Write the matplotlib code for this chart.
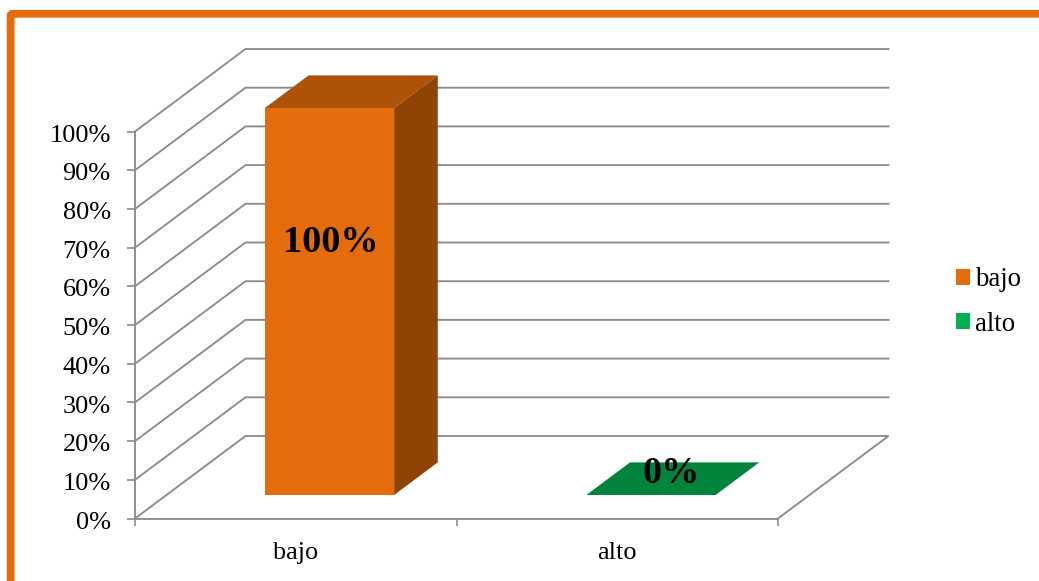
import matplotlib
matplotlib.use("Agg")
import matplotlib.pyplot as plt
from matplotlib.patches import Patch, Polygon, FancyBboxPatch
from matplotlib.lines import Line2D
from matplotlib.transforms import ScaledTranslation

categories = ["bajo", "alto"]
values = [100, 0]
value_labels = ["100%", "0%"]
y_ticks = [0, 10, 20, 30, 40, 50, 60, 70, 80, 90, 100]
y_tick_labels = ["0%", "10%", "20%", "30%", "40%", "50%", "60%", "70%", "80%", "90%", "100%"]

W, H = 1039, 581
FRONT = "#E46C0A"
TOPS = ["#AE5207", "#00843C"]
SIDE = ["#8F4304", "#006B30"]
FACES = [FRONT, "#00B050"]
GRID = "#8C8C8C"
SERIF = "Liberation Serif"
FS = 18.9
FS_LEG = 19.4

plt.rcParams["font.family"] = SERIF
fig = plt.figure(figsize=(W / 100, H / 100), dpi=100, facecolor="white")

# orange frame, running off the right and bottom edges
frame = FancyBboxPatch((10.6 / W, (H - 13.8) / H - 1.2), 1.2, 1.2,
                       boxstyle="round,pad=0,rounding_size=0.002",
                       transform=fig.transFigure, fill=False,
                       edgecolor=FRONT, linewidth=5.6, mutation_aspect=W / H)
fig.add_artist(frame)

L, R, B, T = 135, 778, 518.5, 131.5
ax = fig.add_axes([L / W, 1 - B / H, (R - L) / W, (B - T) / H])
ax.set_xlim(-0.5, 1.5)
ax.set_ylim(0, 100)
ax.patch.set_alpha(0)

px_x = 2 / (R - L)
px_y = 100 / (B - T)
DEPTH_X = 110.5 * px_x
DEPTH_Y = 82.5 * px_y


def proj(x, y, d):
    """Oblique projection: d is the depth, 0 at the front and 1 at the back."""
    return (x + d * DEPTH_X, y + d * DEPTH_Y)


# walls and floor gridlines
for v in y_ticks:
    pts = [proj(-0.5, v, 0), proj(-0.5, v, 1), proj(1.5, v, 1)]
    if v == 0:
        pts.append(proj(1.5, v, 0))
    ax.add_line(Line2D(*zip(*pts), color=GRID, lw=1.35, zorder=1, clip_on=False,
                       solid_joinstyle="miter"))

# bars
BAR_W = 0.402
D0, D1 = 0.285, 0.68
SHIFT = 0.007
LABEL_DEPTH = {True: 0.315, False: 0.484}
LABEL_Y = {True: 64.6, False: 1.4}
for i, (v, lab) in enumerate(zip(values, value_labels)):
    x0, x1 = i + SHIFT - BAR_W / 2, i + SHIFT + BAR_W / 2
    side = [proj(x1, 0, D0), proj(x1, 0, D1), proj(x1, v, D1), proj(x1, v, D0)]
    top = [proj(x0, v, D0), proj(x1, v, D0), proj(x1, v, D1), proj(x0, v, D1)]
    front = [proj(x0, 0, D0), proj(x1, 0, D0), proj(x1, v, D0), proj(x0, v, D0)]
    if v > 0:
        ax.add_patch(Polygon(side, closed=True, fc=SIDE[i], ec="none", zorder=3, clip_on=False))
        ax.add_patch(Polygon(front, closed=True, fc=FRONT, ec="none", zorder=4, clip_on=False))
    ax.add_patch(Polygon(top, closed=True, fc=TOPS[i], ec="none", zorder=3, clip_on=False))
    cx, cy = proj(i, LABEL_Y[v > 0], LABEL_DEPTH[v > 0])
    ax.text(cx, cy, lab, ha="center", va="center", fontsize=27.5, fontweight="bold",
            color="black", zorder=6, clip_on=False)

# axes
for s in ("top", "right"):
    ax.spines[s].set_visible(False)
for s in ("left", "bottom"):
    ax.spines[s].set_color(GRID)
    ax.spines[s].set_linewidth(1.35)
ax.set_yticks(y_ticks)
ax.set_yticklabels(y_tick_labels, fontsize=FS, color="black")
ax.set_xticks([-0.5, 0.5, 1.5])
ax.set_xticklabels([])
ax.set_xticks([0, 1], minor=True)
ax.set_xticklabels(categories, minor=True, fontsize=FS, color="black")
ax.tick_params(axis="y", length=5.5, width=1.2, color=GRID, pad=12)
ax.tick_params(axis="x", which="major", length=5, width=1.2, color=GRID)
ax.tick_params(axis="x", which="minor", length=0, pad=17)

# the reference's y labels sit slightly below their ticks
nudge = ScaledTranslation(0, -1.2 / 72, fig.dpi_scale_trans)
for lbl in ax.get_yticklabels():
    lbl.set_transform(lbl.get_transform() + nudge)

# legend
handles = [Patch(fc=c, ec="none", label=n) for c, n in zip(FACES, categories)]
fig.legend(handles=handles, loc="upper left", bbox_to_anchor=(956 / W, 1 - 267.5 / H),
           frameon=False, fontsize=FS_LEG, borderpad=0, borderaxespad=0,
           handlelength=0.52, handleheight=0.52, handletextpad=0.19, labelspacing=0.72)

fig.savefig("out.png", dpi=100, facecolor="white")
